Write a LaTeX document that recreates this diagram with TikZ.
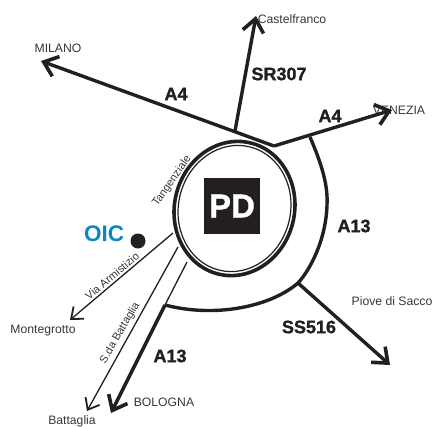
\documentclass[tikz,border=0pt]{standalone}
\usepackage{fontspec}
\setmainfont{Liberation Sans}
\newfontface\heavy[FakeBold=1.2]{Liberation Sans Bold}
\usetikzlibrary{arrows.meta}
\definecolor{ink}{HTML}{231F20}
\definecolor{oicblue}{HTML}{0A86C2}
\tikzset{
  road/.style={draw=ink,line width=3.4pt},
  roadarrow/.style={road,-{Straight Barb[length=13pt,width=21pt,line width=3.6pt]}},
  thinroad/.style={draw=ink,line width=1.3pt},
  thinarrow/.style={thinroad,-{Straight Barb[length=10pt,width=16pt,line width=1.8pt]}},
  roadlabel/.style={font=\heavy\fontsize{18}{18}\selectfont,text=ink,inner sep=0pt},
  place/.style={font=\fontsize{12.2}{13}\selectfont,text=ink!90,inner sep=0pt},
  street/.style={font=\fontsize{11}{12}\selectfont,text=ink!90,inner sep=0pt},
}
\begin{document}
\begin{tikzpicture}[x=1pt,y=-1pt]
\useasboundingbox (0,0) rectangle (433,426);
% labels below arrows
\node[place] (venezia) at (399,110) {VENEZIA};
\node[place] (castel) at (292,19) {Castelfranco};
\node[place] (milano) at (58,48) {MILANO};
\node[place] (piove) at (392,301) {Piove di Sacco};
\node[place] (bologna) at (164,402) {BOLOGNA};
\node[place] (batt) at (72,421) {Battaglia};
\node[place] (monte) at (43,331) {Montegrotto};
% junction points and ends
\coordinate (jn) at (274,146);
\coordinate (jw) at (235,131);
\coordinate (tipM) at (41,61);
\coordinate (tipV) at (392,110);
\coordinate (tipC) at (256,16);
\coordinate (je) at (310,137);
\coordinate (js) at (298,283);
\coordinate (jb) at (165,305);
\coordinate (tipS) at (390,365);
\coordinate (tipB) at (111,413);
\coordinate (vaS) at (173,233);
\coordinate (tipVa) at (70,320);
\coordinate (sbL) at (178,247);
\coordinate (tipSb) at (87,411);
\coordinate (sbR) at (187,262);
% roads
\draw[roadarrow] (jn) -- (tipM);
\draw[roadarrow] (jn) -- (tipV);
\draw[roadarrow] (jw) -- (tipC);
\draw[road] (je) .. controls (322,165) and (328,185) .. (327,205)
   .. controls (326,240) and (310,270) .. (298,283)
   .. controls (270,307) and (215,318) .. (jb);
\draw[roadarrow] (js) -- (tipS);
\draw[roadarrow] (jb) -- (tipB);
\draw[thinarrow] (vaS) -- (tipVa);
\draw[thinarrow] (sbL) -- (tipSb);
\draw[thinroad] (sbR) -- (jb);
% ring
\draw[draw=ink,line width=3.6pt,fill=white,rotate around={-14:(234.5,208.5)}] (234.5,208.5) ellipse [x radius=60,y radius=67.5];
\draw[draw=ink,line width=1.2pt,rotate around={-14:(234.5,208.5)}] (234.5,208.5) ellipse [x radius=56,y radius=63.5];
% PD
\node[fill=ink,minimum size=56pt,inner sep=0pt,text=white,font=\heavy\fontsize{33}{33}\selectfont] (pd) at (232,206) {PD};
% road labels
\node[roadlabel] (a4a) at (176,94) {A4};
\node[roadlabel] (sr) at (279,74) {SR307};
\node[roadlabel] (a4b) at (330,116) {A4};
\node[roadlabel] (a13a) at (354,226) {A13};
\node[roadlabel] (ss) at (309,327) {SS516};
\node[roadlabel] (a13b) at (170,356) {A13};
% streets
\node[street,rotate=55] (tang) at (172,181) {Tangenziale};
\node[street,rotate=40] (via) at (112,276) {Via Armistizio};
\node[street,rotate=60] (sda) at (120,333) {S.da Battaglia};
% OIC
\node[font=\bfseries\fontsize{22.5}{23}\selectfont,text=oicblue,inner sep=0pt] (oic) at (104,234) {OIC};
\node[circle,fill=ink,minimum size=15pt,inner sep=0pt] (dot) at (138,241) {};
\end{tikzpicture}
\end{document}
